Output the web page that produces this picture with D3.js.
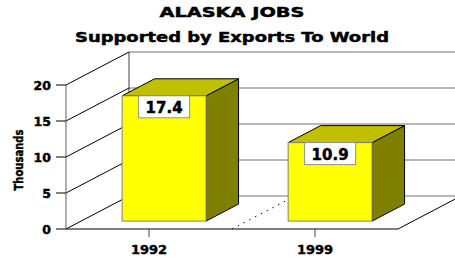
<!DOCTYPE html>
<html>
<head>
<meta charset="utf-8">
<title>Alaska Jobs</title>
<script src="https://cdn.jsdelivr.net/npm/d3@7"></script>
<style>
  body { margin: 0; background: #fff; }
  text { font-family: "DejaVu Sans", sans-serif; font-weight: bold; fill: #000;
         stroke: #000; stroke-width: 0.45; }
</style>
</head>
<body>
<div id="chart"></div>
<script>
// chart data
var years = ["1992", "1999"]
var jobs = [17.4, 10.9]
var yTicks = [0, 5, 10, 15, 20]
var titleLines = ["ALASKA JOBS", "Supported by Exports To World"]

var W = 455, H = 260
// 3d depth offset of the back wall
var depthX = 63, depthY = -33
var barFront = 0.24, barBack = 0.755

var svg = d3.select("#chart").append("svg")
  .attr("width", W).attr("height", H)

var x = d3.scaleBand().domain(years).range([66, 398]).padding(0)
var y = d3.scaleLinear().domain([0, 20]).range([229, 85])

// title
svg.selectAll(".title").data(titleLines).enter().append("text")
  .attr("x", 232).attr("y", function (d, i) { return i == 0 ? 17 : 42 })
  .attr("text-anchor", "middle")
  .attr("font-size", 14)
  .attr("textLength", function (d, i) { return i == 0 ? 145 : 314 })
  .attr("lengthAdjust", "spacingAndGlyphs")
  .text(function (d) { return d })

// back wall
var bx0 = 66 + depthX
svg.selectAll(".grid").data(yTicks).enter().append("line")
  .attr("x1", bx0).attr("x2", W)
  .attr("y1", function (d) { return y(d) + depthY })
  .attr("y2", function (d) { return y(d) + depthY })
  .attr("stroke", "#707070").attr("stroke-width", 1)
svg.append("line")
  .attr("x1", bx0).attr("x2", bx0)
  .attr("y1", y(20) + depthY).attr("y2", y(0) + depthY)
  .attr("stroke", "#404040")

// left wall diagonals
svg.selectAll(".diag").data(yTicks).enter().append("line")
  .attr("x1", 66).attr("x2", bx0)
  .attr("y1", function (d) { return y(d) })
  .attr("y2", function (d) { return y(d) + depthY })
  .attr("stroke", "#000")

// front y axis
svg.append("line")
  .attr("x1", 66).attr("x2", 66)
  .attr("y1", y(20)).attr("y2", y(0))
  .attr("stroke", "#606060")
svg.selectAll(".ytick").data(yTicks).enter().append("line")
  .attr("x1", 56).attr("x2", 66)
  .attr("y1", function (d) { return y(d) }).attr("y2", function (d) { return y(d) })
  .attr("stroke", "#000")
svg.selectAll(".ylab").data(yTicks).enter().append("text")
  .attr("x", 51).attr("y", function (d) { return y(d) + 4.5 })
  .attr("text-anchor", "end").attr("font-size", 12.5)
  .text(function (d) { return d })

svg.append("text")
  .attr("transform", "translate(23,160) rotate(-90)")
  .attr("text-anchor", "middle").attr("font-size", 13)
  .attr("textLength", 61).attr("lengthAdjust", "spacingAndGlyphs")
  .text("Thousands")

// floor
var fx1 = x.range()[1]
svg.append("line")
  .attr("x1", 66).attr("x2", fx1)
  .attr("y1", y(0)).attr("y2", y(0))
  .attr("stroke", "#000")
svg.append("line")
  .attr("x1", fx1).attr("x2", fx1 + depthX)
  .attr("y1", y(0)).attr("y2", y(0) + depthY)
  .attr("stroke", "#000")

// dotted divider between categories
var mid = x(years[1])
svg.append("line")
  .attr("x1", mid).attr("x2", mid + depthX)
  .attr("y1", y(0)).attr("y2", y(0) + depthY)
  .attr("stroke", "#000").attr("stroke-dasharray", "1.5,5")

// category ticks and labels
svg.selectAll(".xtick").data(years).enter().append("line")
  .attr("x1", function (d) { return x(d) + x.bandwidth() / 2 })
  .attr("x2", function (d) { return x(d) + x.bandwidth() / 2 })
  .attr("y1", y(0)).attr("y2", y(0) + 8)
  .attr("stroke", "#404040")
svg.selectAll(".xlab").data(years).enter().append("text")
  .attr("x", function (d) { return x(d) + x.bandwidth() / 2 })
  .attr("y", 254).attr("text-anchor", "middle").attr("font-size", 13)
  .text(function (d) { return d })

// bars
var barW = x.bandwidth() * 0.506
var bars = svg.selectAll(".bar").data(years).enter().append("g")

function pts(a) { return a.map(function (p) { return p.join(",") }).join(" ") }

bars.each(function (d, i) {
  var g = d3.select(this)
  var cx = x(d) + x.bandwidth() / 2
  var ox = depthX * barFront, oy = depthY * barFront
  var bx = depthX * (barBack - barFront), by = depthY * (barBack - barFront)
  var l = cx - barW / 2 + ox, r = cx + barW / 2 + ox
  var t = y(jobs[i]) + oy, b = y(0) + oy
  // side face
  g.append("polygon")
    .attr("points", pts([[r, t], [r + bx, t + by], [r + bx, b + by], [r, b]]))
    .attr("fill", "#808000").attr("stroke", "#000").attr("stroke-width", 1)
  // top face
  g.append("polygon")
    .attr("points", pts([[l, t], [l + bx, t + by], [r + bx, t + by], [r, t]]))
    .attr("fill", "#c0c000").attr("stroke", "#000").attr("stroke-width", 1)
  // front face
  g.append("rect")
    .attr("x", l).attr("y", t).attr("width", r - l).attr("height", b - t)
    .attr("fill", "#ffff00").attr("stroke", "#808080").attr("stroke-width", 1)
  // value label
  var fc = (l + r) / 2
  g.append("rect")
    .attr("x", fc - 25.5).attr("y", t).attr("width", 51).attr("height", 22)
    .attr("fill", "#fff").attr("stroke", "#909090")
  g.append("text")
    .attr("x", fc).attr("y", t + 17).attr("text-anchor", "middle")
    .attr("font-size", 15)
    .text(jobs[i].toFixed(1))
})
</script>
</body>
</html>
